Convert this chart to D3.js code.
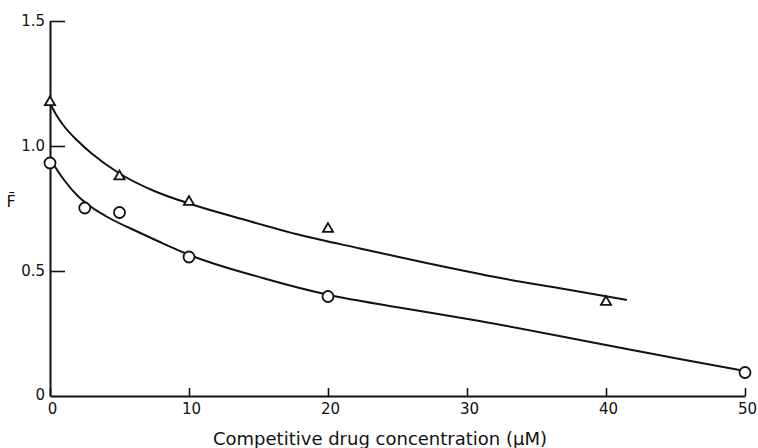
<!DOCTYPE html>
<html>
<head>
<meta charset="utf-8">
<script src="https://cdn.jsdelivr.net/npm/d3@7"></script>
<style>
  html, body { margin: 0; padding: 0; background: #fff; }
  svg text { font-family: "DejaVu Sans", sans-serif; fill: #111; }
</style>
</head>
<body>
<svg id="chart" width="758" height="448"></svg>
<script>
// ---- data ----
const xTicks = [0, 10, 20, 30, 40, 50];
const yTicks = [0, 0.5, 1.0, 1.5];

// triangles
const triX = [0, 5, 10, 20, 40];
const triY = [1.175, 0.878, 0.776, 0.668, 0.376];
// circles
const cirX = [0, 2.5, 5, 10, 20, 50];
const cirY = [0.932, 0.752, 0.734, 0.556, 0.398, 0.094];

// fitted curves (traced)
const upperX = [0, 0.5, 1, 2, 3, 5, 7.5, 10, 14, 18, 22.3, 27, 32.4, 37, 41.5];
const upperY = [1.17, 1.12, 1.08, 1.02, 0.97, 0.89, 0.82, 0.77, 0.705, 0.644, 0.59, 0.533, 0.472, 0.428, 0.384];
const lowerX = [0, 0.5, 1, 2, 3, 4, 6.5, 7.9, 10, 15.3, 20, 25, 30.9, 40, 45.3, 50];
const lowerY = [0.95, 0.905, 0.865, 0.80, 0.755, 0.72, 0.652, 0.616, 0.565, 0.472, 0.405, 0.355, 0.30, 0.204, 0.148, 0.10];

const xLabel = "Competitive drug concentration (\u03BCM)";
const yLabel = "F\u0304";

// ---- drawing ----
const svg = d3.select("#chart");
const x = d3.scaleLinear().domain([0, 50]).range([50, 745]);
const y = d3.scaleLinear().domain([0, 1.5]).range([396, 21]);

// x axis
const gx = svg.append("g").attr("transform", `translate(0,${y(0)})`)
  .call(d3.axisBottom(x).tickValues(xTicks).tickSize(-8).tickSizeOuter(0).tickPadding(7)
    .tickFormat(d3.format("d")));
gx.select(".domain").attr("stroke", "#111").attr("stroke-width", 2);
gx.selectAll(".tick line").attr("stroke", "#111").attr("stroke-width", 1.6);
gx.selectAll(".tick text").attr("font-size", 15).attr("dx", 2)
  .style("font-family", "DejaVu Sans, sans-serif");

// y axis
const gy = svg.append("g").attr("transform", `translate(${x(0)},0)`)
  .call(d3.axisLeft(y).tickValues(yTicks).tickSize(-15).tickSizeOuter(0).tickPadding(5)
    .tickFormat(d => d === 0 ? "0" : d3.format(".1f")(d)));
gy.select(".domain").attr("stroke", "#111").attr("stroke-width", 2);
gy.selectAll(".tick line").attr("stroke", "#111").attr("stroke-width", 1.6);
gy.selectAll(".tick text").attr("font-size", 15)
  .style("font-family", "DejaVu Sans, sans-serif");
gy.selectAll(".tick").filter(d => d === 0).select("line").remove();
gy.selectAll(".tick").filter(d => d === 0).select("text").attr("dy", "0.2em");

// curves
const line = d3.line().x(d => x(d[0])).y(d => y(d[1])).curve(d3.curveMonotoneX);
svg.append("path").datum(d3.zip(upperX, upperY)).attr("d", line)
  .attr("fill", "none").attr("stroke", "#111").attr("stroke-width", 2);
svg.append("path").datum(d3.zip(lowerX, lowerY)).attr("d", line)
  .attr("fill", "none").attr("stroke", "#111").attr("stroke-width", 2);

// circles
svg.append("g").selectAll("circle").data(d3.zip(cirX, cirY)).join("circle")
  .attr("cx", d => x(d[0])).attr("cy", d => y(d[1])).attr("r", 5.5)
  .attr("fill", "#fff").attr("stroke", "#111").attr("stroke-width", 1.8);

// triangles
const tri = d3.symbol().type(d3.symbolTriangle).size(45);
svg.append("g").selectAll("path").data(d3.zip(triX, triY)).join("path")
  .attr("d", tri)
  .attr("transform", d => `translate(${x(d[0])},${y(d[1])})`)
  .attr("fill", "#fff").attr("stroke", "#111").attr("stroke-width", 1.8);

// labels
svg.append("text").attr("x", 380).attr("y", 445).attr("text-anchor", "middle")
  .attr("font-size", 18).text(xLabel);
svg.append("text").attr("x", 11).attr("y", 207).attr("text-anchor", "middle")
  .attr("font-size", 16).text(yLabel);
</script>
</body>
</html>
